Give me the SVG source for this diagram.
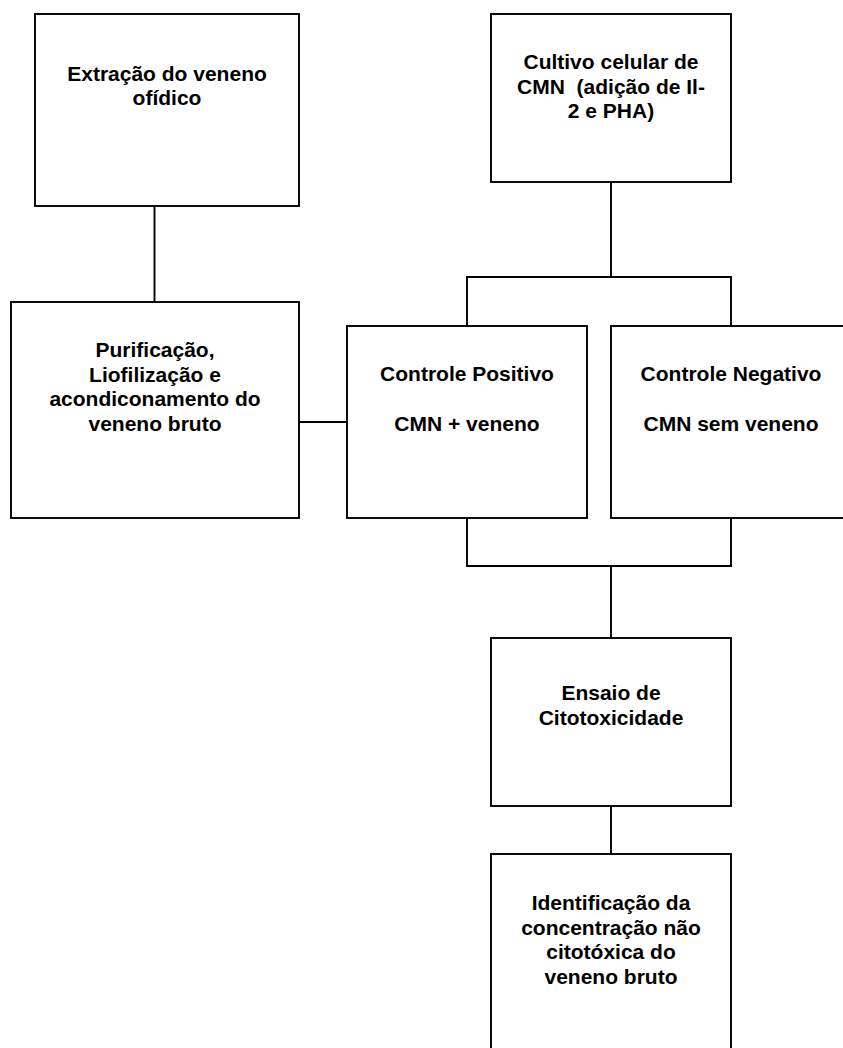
<svg xmlns="http://www.w3.org/2000/svg" width="843" height="1048" viewBox="0 0 843 1048">
<style>
.box{fill:#fff;stroke:#000;stroke-width:1.9}
.conn{fill:none;stroke:#000;stroke-width:1.9}
text{font-family:"Liberation Sans",Arial,sans-serif;font-weight:bold;font-size:21px;fill:#000;text-anchor:middle}
</style>
<rect width="843" height="1048" fill="#fff"/>
<g id="connectors">
<line class="conn" x1="154.5" y1="206" x2="154.5" y2="302"/>
<line class="conn" x1="299" y1="422" x2="347" y2="422"/>
<line class="conn" x1="611" y1="182" x2="611" y2="277"/>
<polyline class="conn" points="467,326 467,277 731,277 731,326"/>
<polyline class="conn" points="467,518 467,566 731,566 731,518"/>
<line class="conn" x1="611" y1="566" x2="611" y2="638"/>
<line class="conn" x1="611" y1="806" x2="611" y2="854"/>
</g>
<g id="extracao">
<rect class="box" x="35" y="14" width="264" height="192"/>
<text x="167" y="81">Extração do veneno</text>
<text x="167" y="105">ofídico</text>
</g>
<g id="cultivo">
<rect class="box" x="491" y="14" width="240" height="168"/>
<text x="611" y="69">Cultivo celular de</text>
<text x="611" y="93.5" xml:space="preserve">CMN  (adição de Il-</text>
<text x="611" y="118">2 e PHA)</text>
</g>
<g id="purificacao">
<rect class="box" x="11" y="302" width="288" height="216"/>
<text x="155" y="357">Purificação,</text>
<text x="155" y="381.5">Liofilização e</text>
<text x="155" y="406">acondiconamento do</text>
<text x="155" y="430.5">veneno bruto</text>
</g>
<g id="controle-positivo">
<rect class="box" x="347" y="326" width="240" height="192"/>
<text x="467" y="381">Controle Positivo</text>
<text x="467" y="430.5">CMN + veneno</text>
</g>
<g id="controle-negativo">
<rect class="box" x="611" y="326" width="240" height="192"/>
<text x="731" y="381">Controle Negativo</text>
<text x="731" y="430.5">CMN sem veneno</text>
</g>
<g id="ensaio">
<rect class="box" x="491" y="638" width="240" height="168"/>
<text x="611" y="700">Ensaio de</text>
<text x="611" y="724.5">Citotoxicidade</text>
</g>
<g id="identificacao">
<rect class="box" x="491" y="854" width="240" height="216"/>
<text x="611" y="910">Identificação da</text>
<text x="611" y="934.5">concentração não</text>
<text x="611" y="959">citotóxica do</text>
<text x="611" y="983.5">veneno bruto</text>
</g>
</svg>
